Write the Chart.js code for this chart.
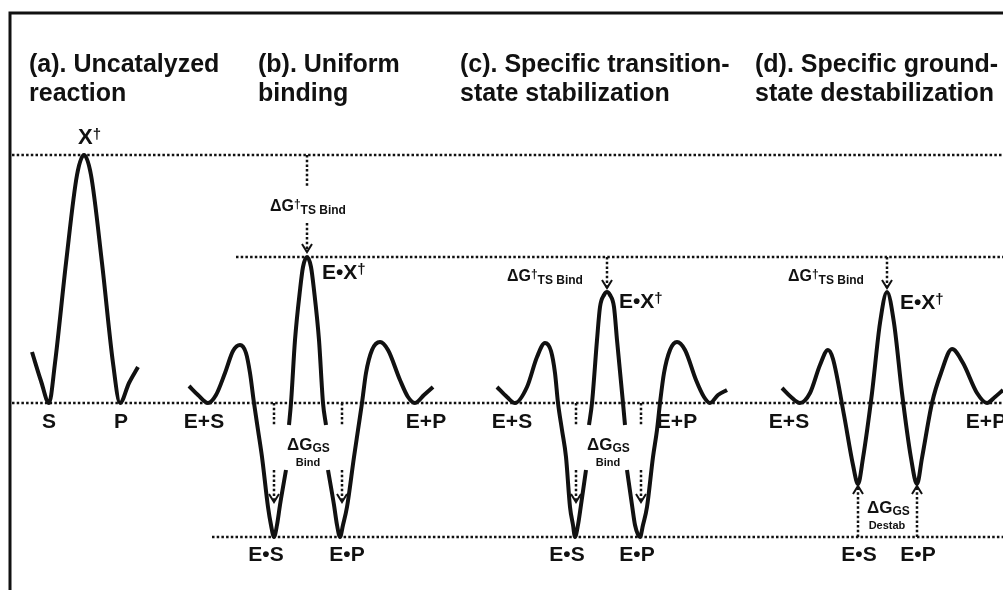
<!DOCTYPE html>
<html>
<head>
<meta charset="utf-8">
<script src="https://cdn.jsdelivr.net/npm/chart.js@4.4.0/dist/chart.umd.min.js"></script>
<style>
  html, body { margin: 0; padding: 0; background: #fff; }
  #wrap { width: 1003px; height: 590px; }
</style>
</head>
<body>
<div id="wrap"><canvas id="diagram" width="1003" height="590"></canvas></div>
<script>
// x = reaction coordinate, G = free energy (S / P level = 0)
// null in a G list = break in the curve (behind the ΔG_GS label)

// (a) uncatalyzed
const curveA_x = [32, 41, 49, 55, 66, 77, 84, 91, 102, 113, 120, 129, 138];
const curveA_G = [51, 22, 0, 40, 140, 228, 248, 228, 140, 40, 0, 20, 36];

// (b) uniform binding
const curveB_x = [189, 198, 208, 216, 225, 233, 240, 246, 250, 254, 258, 262, 268, 271, 274, 277, 280, 286, 287,
  289, 291, 295, 300, 303, 307, 311, 314, 319, 323, 326, 327,
  328, 334, 337, 340, 343, 347, 354, 358, 362, 366, 372, 380, 388, 400, 408, 415, 424, 433];
const curveB_G = [17, 8, 0, 8, 30, 52, 58, 50, 30, 0, -27, -54, -104, -122, -134, -122, -102, -67, null,
  -22, 0, 63, 113, 136, 146, 136, 113, 63, 0, -22, null,
  -67, -102, -122, -134, -122, -104, -54, -27, 0, 30, 53, 61, 53, 23, 6, 0, 8, 16];

// (c) specific transition-state stabilization
const curveC_x = [497, 507, 515, 527, 537, 545, 551, 555, 558, 562, 566, 570, 573, 575, 578, 581, 586, 587,
  589, 592, 597, 600, 604, 607, 610, 614, 617, 623, 625, 626,
  627, 632, 635, 640, 643, 647, 653, 657, 660, 664, 670, 677, 685, 696, 704, 710, 718, 727];
const curveC_G = [16, 6, 0, 16, 46, 60, 52, 30, 0, -27, -54, -104, -122, -134, -122, -102, -67, null,
  -22, 0, 63, 96, 108, 111, 108, 96, 63, 0, -22, null,
  -67, -102, -122, -134, -122, -104, -54, -27, 0, 30, 53, 61, 53, 23, 6, 0, 8, 13];

// (d) specific ground-state destabilization
const curveD_x = [782, 791, 800, 810, 820, 828, 833, 844, 853, 858, 863, 872, 880, 887,
  894, 902, 911, 917, 922, 932, 941, 952, 963, 977, 987, 995, 1003];
const curveD_G = [15, 6, 0, 10, 38, 53, 44, -12, -62, -81, -55, 10, 80, 111,
  80, 10, -55, -81, -55, 0, 30, 54, 40, 10, 0, 6, 13];

// dotted reference levels: X†, E•X† (uniform), S/P, E•S/E•P
const levelG = [248, 146, 0, -134];
const levelFrom = [12, 236, 12, 212];
const levelTo = [1003, 1003, 1003, 1003];

// dotted arrows (x, from G, to G, head at the "to" end)
const arrowX = [307, 307, 274, 342, 274, 342, 607, 576, 641, 576, 641, 887, 858, 917];
const arrowFrom = [248, 180, 0, 0, -67, -67, 146, 0, 0, -67, -67, 146, -134, -134];
const arrowTo = [216, 151, -22, -22, -99, -99, 115, -22, -22, -99, -99, 115, -83, -83];
const arrowHead = [false, true, false, false, true, true, true, false, false, true, true, true, true, true];

// panel titles
const titleLines = [
  ['(a). Uncatalyzed', 'reaction'],
  ['(b). Uniform', 'binding'],
  ['(c). Specific transition-', 'state stabilization'],
  ['(d). Specific ground-', 'state destabilization']
];
const titleX = [29, 258, 460, 755];
const titleG = [331, 302];

// state labels (centred)
const stateText = ['S', 'P', 'E+S', 'E+P', 'E•S', 'E•P', 'E+S', 'E+P', 'E•S', 'E•P', 'E+S', 'E+P', 'E•S', 'E•P'];
const stateX = [49, 121, 204, 426, 266, 347, 512, 677, 567, 637, 789, 986, 859, 918];
const stateG = [-19, -19, -19, -19, -152, -152, -19, -19, -152, -152, -19, -19, -152, -152];

// transition states
const tsText = ['X', 'E•X', 'E•X', 'E•X'];
const tsX = [78, 322, 619, 900];
const tsG = [265, 130, 101, 100];

// ΔG‡ TS Bind labels
const tsBindX = [270, 507, 788];
const tsBindG = [196, 126, 126];

// ΔG GS labels (Bind, Bind, Destab)
const gsText = ['Bind', 'Bind', 'Destab'];
const gsX = [287, 587, 867];
const gsG = [-42, -42, -105];

const FONT = '"Liberation Sans", Arial, sans-serif';
const INK = '#111';

function curve(xs, gs) {
  return xs.map((x, i) => ({ x: x, y: gs[i] }));
}

const datasets = [];
[[curveA_x, curveA_G], [curveB_x, curveB_G], [curveC_x, curveC_G], [curveD_x, curveD_G]].forEach(c => {
  datasets.push({
    data: curve(c[0], c[1]),
    borderColor: INK,
    borderWidth: 4,
    cubicInterpolationMode: 'monotone',
    borderJoinStyle: 'round',
    spanGaps: false,
    pointRadius: 0
  });
});
levelG.forEach((g, i) => {
  datasets.push({
    data: [{ x: levelFrom[i], y: g }, { x: levelTo[i], y: g }],
    borderColor: INK,
    borderWidth: 2.5,
    borderDash: [2.5, 2.2],
    pointRadius: 0
  });
});
arrowX.forEach((x, i) => {
  datasets.push({
    data: [{ x: x, y: arrowFrom[i] }, { x: x, y: arrowTo[i] }],
    borderColor: INK,
    borderWidth: 2.5,
    borderDash: [2.5, 2.2],
    pointRadius: 0
  });
});

// draw a run of text pieces: [text, size, dy]
function richText(ctx, parts, x, y, align) {
  let w = 0;
  parts.forEach(p => {
    ctx.font = 'bold ' + p[1] + 'px ' + FONT;
    w += ctx.measureText(p[0]).width;
  });
  let cx = align === 'center' ? x - w / 2 : x;
  parts.forEach(p => {
    ctx.font = 'bold ' + p[1] + 'px ' + FONT;
    ctx.fillText(p[0], cx, y + (p[2] || 0));
    cx += ctx.measureText(p[0]).width;
  });
}

const annotations = {
  id: 'annotations',
  afterDatasetsDraw(chart) {
    const ctx = chart.ctx;
    const sx = chart.scales.x, sy = chart.scales.y;
    ctx.save();
    ctx.fillStyle = INK;
    ctx.strokeStyle = INK;

    // frame
    ctx.lineWidth = 3;
    ctx.beginPath();
    ctx.moveTo(sx.getPixelForValue(10), sy.getPixelForValue(-187));
    ctx.lineTo(sx.getPixelForValue(10), sy.getPixelForValue(390));
    ctx.lineTo(sx.getPixelForValue(1003), sy.getPixelForValue(390));
    ctx.stroke();

    // arrow heads (open chevrons)
    ctx.lineWidth = 2;
    ctx.setLineDash([]);
    arrowX.forEach((x, i) => {
      if (!arrowHead[i]) return;
      const px = sx.getPixelForValue(x);
      const py = sy.getPixelForValue(arrowTo[i]);
      const dir = arrowTo[i] < arrowFrom[i] ? -1 : 1;
      ctx.beginPath();
      ctx.moveTo(px - 5, py + dir * 8);
      ctx.lineTo(px, py);
      ctx.lineTo(px + 5, py + dir * 8);
      ctx.stroke();
    });

    // titles
    ctx.textAlign = 'left';
    ctx.textBaseline = 'alphabetic';
    ctx.font = 'bold 25px ' + FONT;
    titleLines.forEach((lines, i) => {
      lines.forEach((t, j) => {
        ctx.fillText(t, sx.getPixelForValue(titleX[i]), sy.getPixelForValue(titleG[j]));
      });
    });

    ctx.textBaseline = 'middle';
    // states
    ctx.textAlign = 'center';
    ctx.font = 'bold 21px ' + FONT;
    stateText.forEach((t, i) => {
      ctx.fillText(t, sx.getPixelForValue(stateX[i]), sy.getPixelForValue(stateG[i]));
    });

    ctx.textAlign = 'left';
    // transition states with dagger
    tsText.forEach((t, i) => {
      richText(ctx, [[t, i === 0 ? 22 : 21, 0], ['†', 15, -3]],
        sx.getPixelForValue(tsX[i]), sy.getPixelForValue(tsG[i]), 'left');
    });

    // ΔG‡ TS Bind
    tsBindX.forEach((x, i) => {
      richText(ctx, [['ΔG', 16, 0], ['†', 12, -2], ['TS Bind', 12, 4]],
        sx.getPixelForValue(x), sy.getPixelForValue(tsBindG[i]), 'left');
    });

    // ΔG GS Bind / Destab
    gsX.forEach((x, i) => {
      const px = sx.getPixelForValue(x);
      const py = sy.getPixelForValue(gsG[i]);
      richText(ctx, [['ΔG', 17, 0], ['GS', 12, 4]], px, py, 'left');
      ctx.font = 'bold 11px ' + FONT;
      ctx.textAlign = 'center';
      ctx.fillText(gsText[i], px + (i === 2 ? 20 : 21), py + 18);
      ctx.textAlign = 'left';
    });

    ctx.restore();
  }
};

new Chart(document.getElementById('diagram'), {
  type: 'scatter',
  data: { datasets: datasets },
  options: {
    responsive: false,
    animation: false,
    events: [],
    showLine: true,
    layout: { padding: 0 },
    plugins: { legend: { display: false }, tooltip: { enabled: false } },
    scales: {
      x: { type: 'linear', min: 0, max: 1003, display: false },
      y: { type: 'linear', min: -187, max: 403, display: false }
    }
  },
  plugins: [annotations]
});
</script>
</body>
</html>
